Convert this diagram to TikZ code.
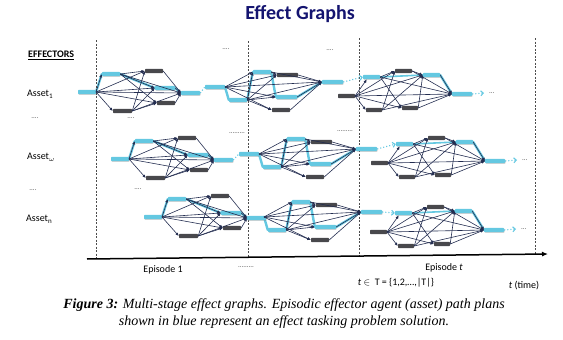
\documentclass[tikz,border=0pt]{standalone}
\usepackage{fontspec}
\setmainfont{Carlito}
\newfontfamily\capfont{Liberation Serif}
\usetikzlibrary{arrows.meta,shadows}
\pgfdeclarelayer{back}
\pgfsetlayers{back,main}
\definecolor{cyanc}{RGB}{100,200,225}
\definecolor{darkbar}{RGB}{72,72,76}
\definecolor{edgec}{RGB}{35,45,80}
\definecolor{titlec}{RGB}{20,20,112}
\tikzset{
 cbar/.style={rectangle, fill=cyanc, inner sep=0pt, minimum height=4.4pt, rounded corners=0.8pt,
   drop shadow={shadow xshift=0.6pt, shadow yshift=-0.7pt, opacity=0.35}},
 dbar/.style={rectangle, fill=darkbar, inner sep=0pt, minimum height=4.2pt, rounded corners=0.8pt},
 ed/.style={draw=edgec, line width=0.6pt, -{Latex[length=3.4pt,width=3pt]}},
 cpath/.style={draw=cyanc, line width=2.4pt, line cap=round},
 cthin/.style={draw=cyanc, line width=1.6pt, line cap=round},
 cdot/.style={draw=cyanc, line width=1.1pt, dotted},
 vdash/.style={draw=black!70, line width=0.5pt, dash pattern=on 2pt off 1.5pt},
 lbl/.style={font=\fontsize{10}{12}\selectfont, inner sep=0pt},
 dotlbl/.style={font=\fontsize{7}{8}\selectfont, text=black!70, inner sep=0pt},
}
\newcommand\sbs[1]{\raisebox{-2pt}{\fontsize{7}{8}\selectfont #1}}
\newcommand\GraphA{%
 \node[cbar,minimum width=18pt] (in) at (87,92) {};
 \coordinate (src) at (96,92);
 \node[cbar,minimum width=18pt] (tl) at (111,74) {};
 \node[dbar,minimum width=18pt] (td) at (154,71) {};
 \node[cbar,minimum width=20pt] (mc) at (165,88) {};
 \node[dbar,minimum width=18pt] (lr) at (166,103) {};
 \node[dbar,minimum width=19pt] (bt) at (122.5,111) {};
 \coordinate (snk) at (181,93);
 \node[cbar,minimum width=19pt] (out) at (190.5,93) {};
 \begin{pgfonlayer}{back}
  \draw[cpath] (src) -- (tl.west) (tl.east) -- (mc.west) (mc.east) -- (snk);
 \end{pgfonlayer}
 \foreach \q in {tl.west,td.west,mc.west,lr.west,bt.west,snk} {\draw[ed] (src) -- (\q);}
 \foreach \q in {td.west,mc.west,lr.west,snk} {\draw[ed] (tl.east) -- (\q); \draw[ed] (bt.east) -- (\q);}
 \foreach \q in {td,mc,lr} {\draw[ed] (\q.east) -- (snk);}
}
\newcommand\InB{\node[cbar,minimum width=20pt] (in) at (215,87) {};}
\newcommand\GraphB{%
 \coordinate (src) at (225,87);
 \node[cbar,minimum width=18pt] (ll) at (238,100) {};
 \node[cbar,minimum width=18pt] (tc) at (262,72) {};
 \node[dbar,minimum width=21pt] (trd) at (287.5,75) {};
 \node[cbar,minimum width=21pt] (lm) at (286.5,97) {};
 \node[dbar,minimum width=18pt] (bd) at (281,110) {};
 \coordinate (snk) at (322,82);
 \node[cbar,minimum width=21pt] (out) at (332.5,82) {};
 \begin{pgfonlayer}{back}
  \draw[cpath] (src) -- (ll.west) (ll.east) -- (tc.west) (tc.east) -- (lm.west) (lm.east) -- (snk);
 \end{pgfonlayer}
 \foreach \q in {tc.west,trd.west,lm.west,bd.west,snk} {\draw[ed] (src) -- (\q); \draw[ed] (ll.east) -- (\q);}
 \foreach \q in {trd.west,snk} {\draw[ed] (tc.east) -- (\q);}
 \foreach \q in {trd,lm,bd} {\draw[ed] (\q.east) -- (snk);}
}
\newcommand\GraphC{%
 \node[dbar,minimum width=17pt] (ind) at (346.5,96) {};
 \coordinate (src) at (355,96);
 \node[cbar,minimum width=17pt] (tl) at (371.5,77) {};
 \node[dbar,minimum width=17pt] (td) at (403.5,71) {};
 \node[cbar,minimum width=17pt] (tr) at (431.5,75) {};
 \node[dbar,minimum width=16pt] (bl) at (374,110) {};
 \node[dbar,minimum width=16pt] (br) at (410,108) {};
 \coordinate (snk) at (452,94);
 \node[cbar,minimum width=20pt] (out) at (462,94) {};
 \coordinate (tip) at (484,93);
 \node[dotlbl,anchor=west] (more) at (489,93) {...};
 \begin{pgfonlayer}{back}
  \draw[cthin] (tl.east) -- (tr.west);
  \draw[cpath] (tr.east) -- (snk);
 \end{pgfonlayer}
 \draw[cdot,-{Straight Barb[length=2.5pt]}] (out.east) -- (tip);
 \draw[ed] (src) -- ([xshift=4pt]tl.south west);
 \foreach \q in {td.west,tr.west,snk,bl.west,br.west} {\draw[ed] (src) -- (\q);}
 \foreach \q in {td.west,br.west,snk} {\draw[ed] (tl.east) -- (\q);}
 \foreach \q in {td.west,tr.west,snk} {\draw[ed] (bl.east) -- (\q);}
 \foreach \q in {tr.west,snk} {\draw[ed] (td.east) -- (\q); \draw[ed] (br.east) -- (\q);}
 \draw[ed] (tr.east) -- (snk);
}
\begin{document}
\begin{tikzpicture}[x=1pt,y=-1pt]
\useasboundingbox (0,0) rectangle (563,340);
% title and labels
\node[font=\fontsize{20}{24}\selectfont\bfseries, text=titlec, inner sep=0pt] (title) at (300,14) {Effect Graphs};
\node[font=\fontsize{10}{12}\selectfont\bfseries, inner sep=0pt, anchor=west] (eff) at (28,55) {\underline{EFFECTORS}};
\node[lbl, anchor=west] (as1) at (27,94) {Asset\sbs{1}};
\node[lbl, anchor=west] (asw) at (27,157) {Asset\sbs{$\omega$}};
\node[lbl, anchor=west] (asn) at (26,219) {Asset\sbs{n}};
\node[dotlbl] (d1) at (35,118) {....};
\node[dotlbl] (d2) at (33,190) {....};
\node[dotlbl] (d3) at (226,49) {....};
\node[dotlbl] (d4) at (330,50) {....};
\node[dotlbl] (d5) at (131,118) {....};
\node[dotlbl] (d6) at (138,189) {....};
\node[dotlbl] (d7) at (237,133) {.........};
\node[dotlbl] (d8) at (345,131) {.........};
% episode separators
\draw[vdash] (96,40) -- (96,258.9);
\draw[vdash] (248,41) -- (248,257.3);
\draw[vdash] (359,38) -- (359,256);
\draw[vdash] (535,38) -- (535,254.1);
% row 1
\begin{scope}[name prefix=a1-] \GraphA \end{scope}
\begin{scope}[name prefix=b1-] \InB \GraphB \end{scope}
\begin{scope}[name prefix=c1-] \GraphC \end{scope}
% row omega
\begin{scope}[shift={(33,67)},name prefix=a2-] \GraphA \end{scope}
\begin{scope}[shift={(34,67)},name prefix=b2-] \InB \GraphB \end{scope}
\begin{scope}[shift={(33,67)},name prefix=c2-] \GraphC \end{scope}
% row n
\begin{scope}[shift={(66,125)},name prefix=a3-] \GraphA \end{scope}
\begin{scope}[shift={(39,130)},name prefix=b3-] \GraphB \end{scope}
\begin{scope}[shift={(32,136)},name prefix=c3-] \GraphC \end{scope}
% links between episodes
\draw[cdot] (a1-out.east) -- (b1-in.west);
\draw[cdot] (a2-out.east) -- (b2-in.west);
\draw[cdot,-{Straight Barb[length=2.5pt]}] (b1-out.east) -- (c1-tl.west);
\draw[cdot,-{Straight Barb[length=2.5pt]}] (b2-out.east) -- (c2-tl.west);
\draw[cdot,-{Straight Barb[length=2.5pt]}] (b3-out.east) -- (c3-tl.west);
% time axis
\coordinate (ax0) at (87,259);
\coordinate (ax1) at (548,254);
\draw[line width=1.5pt, -{Latex[length=6pt,width=5pt]}] (ax0) -- (ax1);
\node[lbl] (ep1) at (163,270) {Episode 1};
\node[dotlbl] (d9) at (246,267) {.........};
\node[lbl] (ept) at (444,268) {Episode \textit{t}};
\node[lbl] (tset) at (396,283) {\textit{t} $\in$\ \ T = \{1,2,\ldots,|T|\}};
\node[lbl] (time) at (524,286) {\textit{t} (time)};
% caption
\node[font=\capfont\fontsize{14}{17}\selectfont\itshape, align=center, inner sep=0pt] (cap) at (284,314)
 {\textbf{Figure 3:} Multi-stage effect graphs. Episodic effector agent (asset) path plans\\shown in blue represent an effect tasking problem solution.};
\end{tikzpicture}
\end{document}
